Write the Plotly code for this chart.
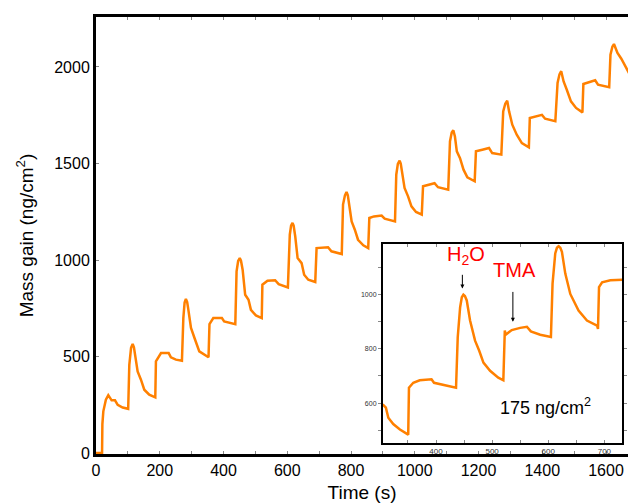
import plotly.graph_objects as go

# main curve (time in s, mass gain in ng/cm2)
time_s = [0, 19, 20, 23, 31, 38.6, 49, 59.6, 68, 83.6, 101,
          104.5, 110, 115, 119, 123, 130.6, 141, 151.5, 167, 186,
          188, 204, 228, 235, 250.8, 269.6,
          274, 278, 282, 286, 289, 298, 309, 324, 353,
          356, 368, 395, 402, 418, 437,
          441, 446, 451, 455, 460, 468, 478.5, 486, 501.6, 520,
          522, 538, 562, 573, 602,
          608, 612, 616.5, 620, 625, 632.5, 645, 653, 666, 687.8,
          692, 728, 738.6, 771,
          775, 781, 786, 790, 793.6, 802, 812, 822, 838.6, 854,
          857.5, 872, 896, 905.6, 938,
          942, 947, 952.5, 956, 960.7, 968, 979, 989.6, 1004, 1022,
          1026, 1050, 1062, 1073, 1105,
          1110.5, 1116, 1121, 1126, 1132, 1142, 1153, 1165, 1188,
          1192, 1212, 1233, 1243, 1271.6,
          1277.5, 1284, 1290, 1293, 1296, 1306, 1320, 1336, 1358,
          1361, 1390, 1399, 1409, 1441,
          1448, 1454, 1459.5, 1463, 1467, 1477, 1490, 1506, 1526,
          1529, 1547, 1566, 1575, 1610,
          1614, 1620, 1625, 1630, 1636, 1648, 1662, 1672, 1680]
mass = [0, 0, 150, 216, 276, 300, 273, 273, 250, 236, 229,
        457, 545, 565, 548, 509, 423, 380, 328, 302, 288,
        475, 518, 518, 496, 484, 478,
        699, 780, 798, 782, 751, 648, 596, 527, 496,
        668, 699, 699, 682, 674, 668,
        941, 995, 1010, 995, 950, 820, 794, 742, 713, 699,
        872, 893, 895, 875, 858,
        1131, 1178, 1192, 1178, 1123, 1010, 984, 924, 898, 886,
        1062, 1066, 1045, 1031,
        1287, 1335, 1352, 1335, 1287, 1200, 1157, 1105, 1076, 1062,
        1218, 1226, 1230, 1214, 1200,
        1442, 1498, 1515, 1500, 1450, 1373, 1330, 1278, 1249, 1235,
        1382, 1394, 1398, 1377, 1364,
        1615, 1660, 1672, 1640, 1563, 1528, 1468, 1428, 1408,
        1563, 1571, 1580, 1554, 1546,
        1770, 1810, 1825, 1805, 1770, 1701, 1649, 1606, 1584,
        1736, 1750, 1752, 1732, 1719,
        1917, 1962, 1978, 1958, 1925, 1882, 1822, 1788, 1765,
        1912, 1922, 1931, 1908, 1895,
        2064, 2105, 2119, 2100, 2073, 2043, 1995, 1969, 1955]

# inset (zoom on one part of the run)
inset_t = [305, 310.7, 315, 323.8, 335.7, 350.5,
           351.8, 359.5, 371, 392, 396.5, 413, 435.7,
           438.7, 443, 446, 448.8, 451.5, 454.8, 460.7, 469.6, 477, 484.5, 496.4, 511, 520,
           522.6, 524, 535, 550, 562, 569, 585.7, 604.8,
           607.7, 612.5, 615.5, 618.5, 621.5, 624.4, 630.4, 639.3, 645.2, 654, 669, 687, 688.7,
           690.5, 696, 710.7, 732.7]
inset_mass = [595, 583, 546, 523, 503, 484,
              657, 675, 684, 688, 675, 667, 657,
              842, 953, 990, 999, 994, 978, 904, 830, 793, 749, 719, 694, 684,
              867, 852, 869, 877, 881, 864, 852, 844,
              1040, 1151, 1172, 1178, 1172, 1157, 1077, 1002, 978, 941, 904, 885, 873,
              1027, 1045, 1052, 1054]

orange = "#ff8000"
red = "#ff0000"
font = "Liberation Sans, Arial, sans-serif"

fig = go.Figure()
fig.add_trace(go.Scatter(x=time_s, y=mass, mode="lines",
                         line=dict(color=orange, width=2.5), showlegend=False))
fig.add_trace(go.Scatter(x=inset_t, y=inset_mass, mode="lines", xaxis="x2", yaxis="y2",
                         line=dict(color=orange, width=2.5), showlegend=False))

fig.update_layout(
    width=628, height=504,
    margin=dict(l=96, r=0, t=17, b=50),
    paper_bgcolor="white", plot_bgcolor="white",
    font=dict(family=font, color="black"),
    xaxis=dict(range=[0, 1669], tick0=0, dtick=200,
               showline=True, linecolor="black", linewidth=3, mirror="allticks",
               ticks="inside", ticklen=3, tickcolor="#888888",
               minor=dict(dtick=100, ticks="inside", ticklen=3, tickcolor="#888888"),
               showgrid=False, zeroline=False, tickfont=dict(size=16),
               title=dict(text="Time (s)", font=dict(size=19), standoff=8)),
    yaxis=dict(range=[-5, 2259], tick0=0, dtick=500,
               showline=True, linecolor="black", linewidth=3,
               ticks="inside", ticklen=3, tickcolor="#888888",
               showgrid=False, zeroline=False, tickfont=dict(size=16),
               title=dict(text="Mass gain (ng/cm<sup>2</sup>)", font=dict(size=19), standoff=16)),
    xaxis2=dict(domain=[0.5389, 0.9893], anchor="y2", range=[305, 732],
                tick0=400, dtick=100,
                showline=True, linecolor="black", linewidth=1.5, mirror="allticks",
                ticks="inside", ticklen=3, tickcolor="#888888",
                minor=dict(dtick=50, ticks="inside", ticklen=3, tickcolor="#888888"),
                showgrid=False, zeroline=False, tickfont=dict(size=8, color="#333333")),
    yaxis2=dict(domain=[0.0263, 0.480], anchor="x2", range=[455, 1185],
                tick0=600, dtick=200,
                showline=True, linecolor="black", linewidth=1.5, mirror="allticks",
                ticks="outside", ticklen=3, tickcolor="#888888",
                minor=dict(dtick=100, ticks="outside", ticklen=3, tickcolor="#888888"),
                showgrid=False, zeroline=False, tickfont=dict(size=7, color="#333333")),
    shapes=[dict(type="rect", xref="x2 domain", yref="y2 domain",
                 x0=0, x1=1, y0=0, y1=1, fillcolor="white",
                 line=dict(width=0), layer="below")],
)

fig.add_annotation(x=453.6, y=1144, xref="x2", yref="y2", text="H<sub>2</sub>O",
                   showarrow=False, font=dict(size=20, color=red))
fig.add_annotation(x=539, y=1089, xref="x2", yref="y2", text="TMA",
                   showarrow=False, font=dict(size=20, color=red))
fig.add_annotation(x=447, y=1022, ax=447, ay=1078, xref="x2", yref="y2",
                   axref="x2", ayref="y2", text="", showarrow=True,
                   arrowhead=2, arrowsize=0.8, arrowwidth=1, arrowcolor="black")
fig.add_annotation(x=537, y=900, ax=537, ay=1015, xref="x2", yref="y2",
                   axref="x2", ayref="y2", text="", showarrow=True,
                   arrowhead=2, arrowsize=0.8, arrowwidth=1, arrowcolor="black")
fig.add_annotation(x=594.6, y=589, xref="x2", yref="y2", text="175 ng/cm<sup>2</sup>",
                   showarrow=False, font=dict(size=18, color="black"))

# drop the default 8px body margin so the figure fills the window
fig.write_html("out.html", config={"displayModeBar": False},
               post_script="document.body.style.margin = '0';")
